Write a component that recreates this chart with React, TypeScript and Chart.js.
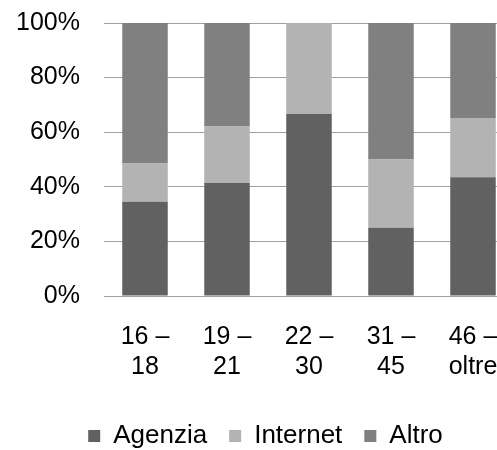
import React, { useEffect, useRef } from "react";
import { Chart, registerables } from "chart.js";

Chart.register(...registerables);

const categories: string[][] = [
  ["16 –", "18"],
  ["19 –", "21"],
  ["22 –", "30"],
  ["31 –", "45"],
  ["46 –", "oltre"],
];
const agenzia = [34.5, 41.4, 66.7, 25.0, 43.5];
const internet = [14.0, 20.7, 33.3, 25.0, 21.7];
const altro = [51.5, 37.9, 0, 50.0, 34.8];
const yTicks = [0, 20, 40, 60, 80, 100];

const FONT = "'Liberation Sans', Arial, sans-serif";
const FS = 25;

export default function App() {
  const ref = useRef<HTMLCanvasElement | null>(null);
  useEffect(() => {
    if (!ref.current) return;
    const chart = new Chart(ref.current, {
      type: "bar",
      data: {
        labels: categories,
        datasets: [
          { label: "Agenzia", data: agenzia, backgroundColor: "#616161", categoryPercentage: 1, barPercentage: 0.555 },
          { label: "Internet", data: internet, backgroundColor: "#b3b3b3", categoryPercentage: 1, barPercentage: 0.555 },
          { label: "Altro", data: altro, backgroundColor: "#808080", categoryPercentage: 1, barPercentage: 0.555 },
        ],
      },
      options: {
        responsive: false,
        animation: false,
        devicePixelRatio: 1,
        layout: { padding: { left: 17, right: 18, top: 23, bottom: 0 } },
        plugins: {
          tooltip: { enabled: false },
          legend: {
            position: "bottom",
            labels: {
              boxWidth: 12,
              boxHeight: 12,
              padding: 22,
              color: "#000",
              font: { family: FONT, size: 26 },
            },
          },
        },
        scales: {
          x: {
            stacked: true,
            afterFit: (s: any) => { s.height = 105; },
            grid: { display: false },
            border: { display: true, color: "#a0a0a0", width: 1 },
            ticks: {
              color: "#000",
              font: { family: FONT, size: FS },
              maxRotation: 0,
              autoSkip: false,
              padding: 18,
            },
          },
          y: {
            stacked: true,
            min: 0,
            max: 100,
            afterFit: (s: any) => { s.width = 87; },
            afterBuildTicks: (s: any) => { s.ticks = yTicks.map((v) => ({ value: v })); },
            grid: { color: "#a0a0a0", drawTicks: true, tickLength: 24, tickColor: "rgba(0,0,0,0)" },
            border: { display: false },
            ticks: {
              color: "#000",
              font: { family: FONT, size: FS },
              padding: 0,
              callback: (v: any) => v + "%",
            },
          },
        },
      },
    });
    return () => chart.destroy();
  }, []);
  return (
    <div style={{ position: "fixed", left: 0, top: 0, width: 497, height: 450, overflow: "hidden", background: "#fff" }}>
      <canvas ref={ref} width={532} height={459} style={{ display: "block" }} />
    </div>
  );
}
